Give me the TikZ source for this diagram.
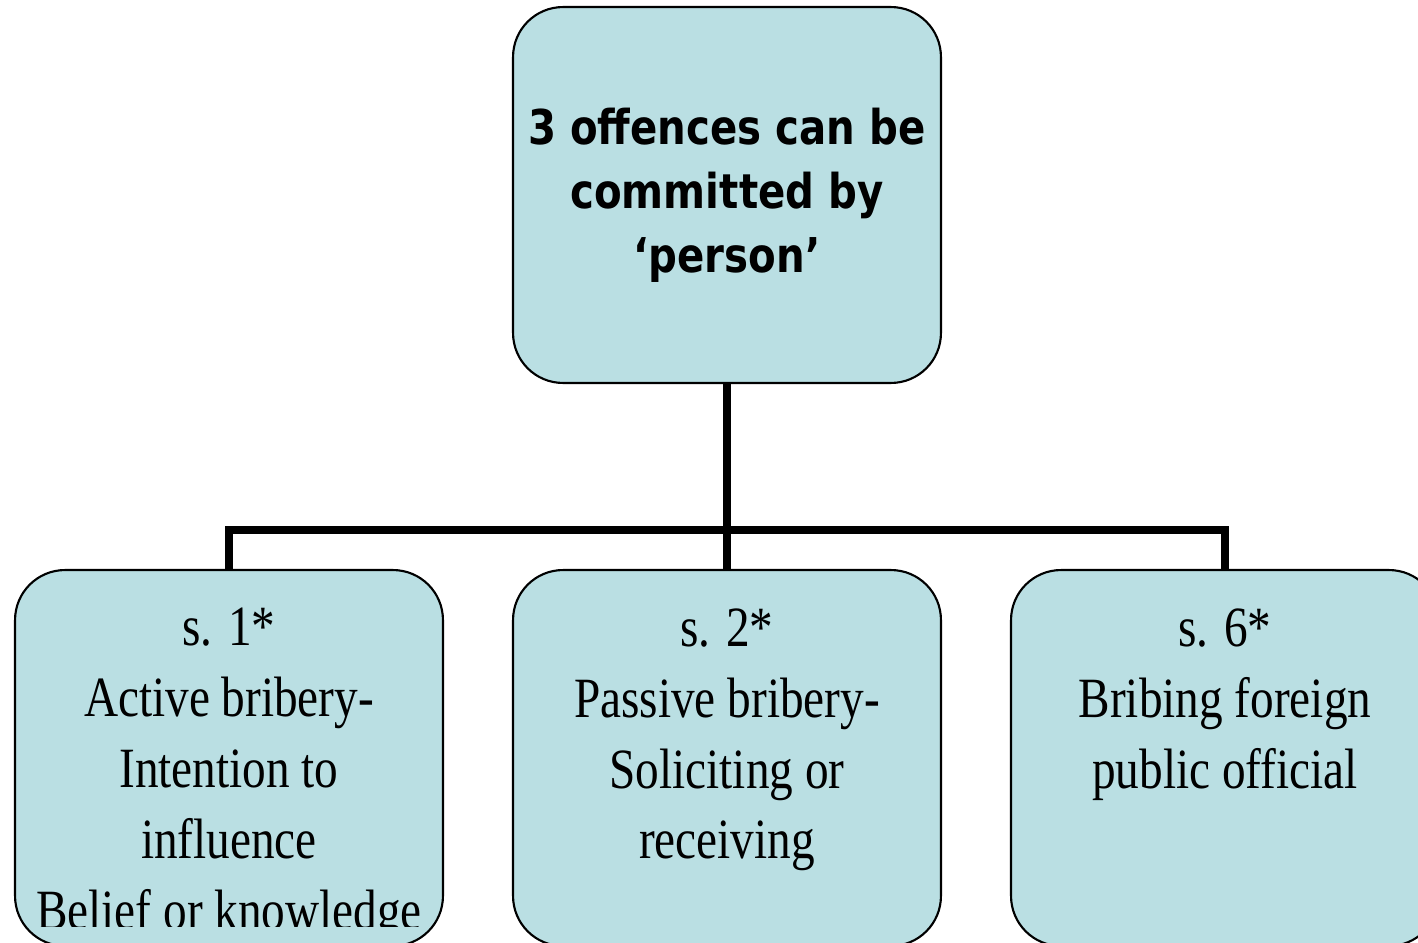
\documentclass[tikz,border=0pt]{standalone}
\usepackage{fontspec}
\newfontfamily\headfont{DejaVu Sans}[FakeStretch=0.84]
\newfontfamily\boxfont{Liberation Serif}[FakeStretch=0.83]
\definecolor{boxfill}{RGB}{186,223,227}
\tikzset{
	box/.style={draw,line width=1.2pt,fill=boxfill,rounded corners=1cm,minimum width=8.56cm,minimum height=7.52cm,inner sep=0pt},
	link/.style={line width=4pt},
	headtext/.style={align=center,inner sep=0pt,font=\headfont\bfseries\fontsize{27.3}{36.4}\selectfont},
	boxtext/.style={align=center,inner sep=0pt,anchor=north,font=\boxfont\fontsize{32.4}{40.4}\selectfont}
}
\begin{document}
\begin{tikzpicture}[x=0.02cm,y=-0.02cm]
	\clip (0,0) rectangle (1418,943);
	
	%BOXES
	\node[box] (top) at (727,195) {};
	\node[box] (s1) at (229,758) {};
	\node[box] (s2) at (727,758) {};
	\node[box] (s3) at (1225,758) {};
	
	%LINES
	\coordinate (bus) at (727,530);
	\draw[link] (top.south) -- (s2.north);
	\draw[link] (s1.north) |- (bus) -| (s3.north);
	
	%TEXT
	\node[headtext] (toptext) at (top.center) {3 offences can be\\committed by\\‘person’};
	\begin{scope}
		\clip (0,0) rectangle (1418,926);
		\node[boxtext] (s1text) at (229,608) {s. 1*\\Active bribery-\\Intention to\\influence\\Belief or knowledge};
	\end{scope}
	\node[boxtext] (s2text) at (727,608) {s. 2*\\Passive bribery-\\Soliciting or\\receiving};
	\node[boxtext] (s3text) at (1225,608) {s. 6*\\Bribing foreign\\public official};
	
	%\draw[help lines] (0,0) grid (1418,943);
\end{tikzpicture}
\end{document}
